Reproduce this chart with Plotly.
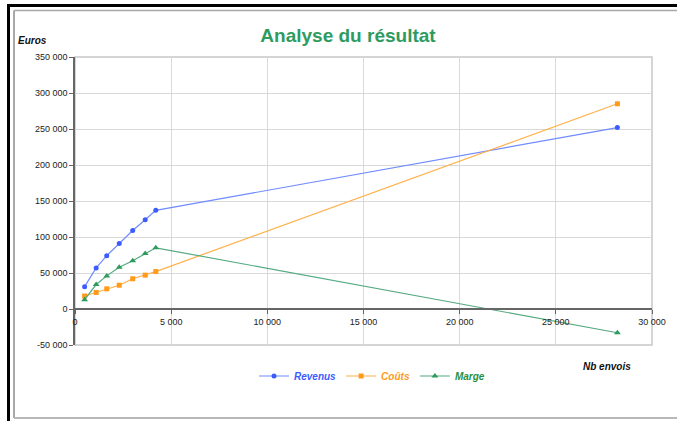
import plotly.graph_objects as go

nb_envois = [500, 1100, 1650, 2300, 3000, 3650, 4200, 28200]
revenus = [31000, 57000, 74000, 91000, 109000, 124000, 137000, 252000]
couts = [18000, 23000, 28000, 33000, 42000, 47000, 52000, 285000]
marge = [13000, 34000, 46000, 58000, 67000, 77000, 85000, -33000]

y_ticks = [-50000, 0, 50000, 100000, 150000, 200000, 250000, 300000, 350000]
y_labels = ["-50 000", "0", "50 000", "100 000", "150 000", "200 000", "250 000", "300 000", "350 000"]
x_ticks = [0, 5000, 10000, 15000, 20000, 25000, 30000]
x_labels = ["0", "5 000", "10 000", "15 000", "20 000", "25 000", "30 000"]

W, H = 677, 421
L, R, T, B = 75, 25, 57, 76
pw, ph = W - L - R, H - T - B

def px(x):
    return (x - L) / pw

def py(y):
    return (H - B - y) / ph

fig = go.Figure()
fig.add_trace(go.Scatter(x=nb_envois, y=revenus, mode="lines+markers",
                         name="<b><i><span style='color:#3D5CFF'>Revenus</span></i></b>",
                         line=dict(color="#6F8BFF", width=1.2),
                         marker=dict(symbol="circle", size=5, color="#3D5CFF")))
fig.add_trace(go.Scatter(x=nb_envois, y=couts, mode="lines+markers",
                         name="<b><i><span style='color:#FF9A1A'>Coûts</span></i></b>",
                         line=dict(color="#FFB04A", width=1.2),
                         marker=dict(symbol="square", size=5, color="#FF9A1A")))
fig.add_trace(go.Scatter(x=nb_envois, y=marge, mode="lines+markers",
                         name="<b><i><span style='color:#2A8F3A'>Marge</span></i></b>",
                         line=dict(color="#55AA80", width=1.2),
                         marker=dict(symbol="triangle-up", size=6, color="#2E9A5E")))

shapes = [
    dict(type="rect", xref="paper", yref="paper", x0=0, x1=1, y0=0, y1=1,
         line=dict(color="#C8C8C8", width=1.5), layer="below"),
    dict(type="rect", xref="paper", yref="paper", x0=px(7), x1=px(677), y0=py(7), y1=py(4),
         line=dict(width=0), fillcolor="black"),
    dict(type="rect", xref="paper", yref="paper", x0=px(7), x1=px(10), y0=py(421), y1=py(4),
         line=dict(width=0), fillcolor="black"),
    dict(type="line", xref="paper", yref="paper", x0=px(14), x1=px(14), y0=py(10.5), y1=py(418),
         line=dict(color="#A8A8A8", width=2)),
    dict(type="line", xref="paper", yref="paper", x0=px(14), x1=px(677), y0=py(10.5), y1=py(10.5),
         line=dict(color="#A8A8A8", width=1.5)),
    dict(type="line", xref="paper", yref="paper", x0=px(14), x1=px(677), y0=py(418), y1=py(418),
         line=dict(color="#B8B8B8", width=2)),
]

fig.update_layout(
    width=W, height=H,
    margin=dict(l=L, r=R, t=T, b=B),
    paper_bgcolor="white", plot_bgcolor="white",
    separators=", ",
    font=dict(family="Liberation Sans, Arial, sans-serif", size=9, color="#222222"),
    title=dict(text="<b>Analyse du résultat</b>", x=348 / W, xanchor="center",
               y=1 - 35 / H, yanchor="middle",
               font=dict(size=19, color="#2E9B5F", family="Liberation Sans, Arial, sans-serif")),
    showlegend=True,
    legend=dict(orientation="h", x=px(372), xanchor="center", y=py(376), yanchor="middle",
                font=dict(size=10), bgcolor="rgba(0,0,0,0)", itemwidth=30,
                tracegroupgap=0),
    shapes=shapes,
    xaxis=dict(range=[0, 30000], tickvals=x_ticks, ticktext=x_labels,
               showgrid=True, gridcolor="#D9D9D9", gridwidth=1,
               zeroline=False, showline=True, linecolor="#666666", linewidth=1.5,
               ticks="outside", ticklen=4, tickcolor="#666666",
               anchor="free", position=0.125, tickfont=dict(size=9)),
    yaxis=dict(range=[-50000, 350000], tickvals=y_ticks, ticktext=y_labels,
               showgrid=True, gridcolor="#D9D9D9", gridwidth=1,
               zeroline=False, showline=True, linecolor="#666666", linewidth=1.5,
               ticks="outside", ticklen=4, tickcolor="#666666", tickfont=dict(size=9)),
    annotations=[
        dict(text="<b><i>Euros</i></b>", xref="paper", yref="paper", x=px(16), y=py(40),
             xanchor="left", yanchor="middle", showarrow=False, font=dict(size=10, color="#111111")),
        dict(text="<b><i>Nb envois</i></b>", xref="paper", yref="paper", x=px(607), y=py(366),
             xanchor="center", yanchor="middle", showarrow=False, font=dict(size=10, color="#111111")),
    ],
)

fig.write_html("out.html", config={"displayModeBar": False},
               post_script="document.body.style.margin='0';document.body.style.overflow='hidden';")
